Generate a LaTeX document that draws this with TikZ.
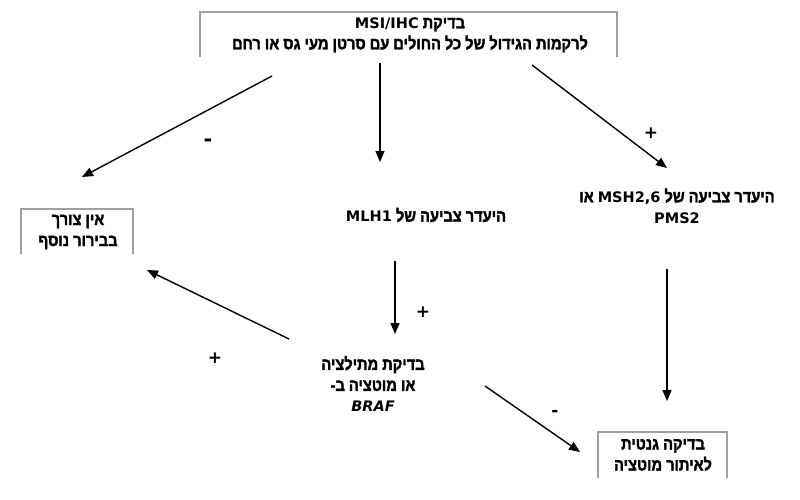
\documentclass[tikz,border=0pt]{standalone}
\usepackage{fontspec}
\setmainfont{DejaVu Sans}
\newfontfamily\hebfont[Script=Hebrew, FakeStretch=0.86, FakeBold=2]{Liberation Sans Bold}
\newfontfamily\latfont{DejaVu Sans}
\TeXXeTstate=1
\usetikzlibrary{arrows.meta}
\definecolor{boxgray}{RGB}{160,160,160}
\newcommand{\RLtxt}[1]{\beginR #1\endR}
\newcommand{\LRtxt}[1]{\beginL{\latfont\bfseries\fontsize{14.5}{21}\selectfont #1}\endL{}}
\begin{document}
\begin{tikzpicture}[x=1pt,y=-1pt,
  txt/.style={font=\hebfont\fontsize{17}{21}\selectfont, align=center, inner sep=0pt},
  openbox/.style={draw=boxgray, line width=1.5pt},
  arr/.style={-{Triangle[length=11pt,width=9pt]}, line width=1.4pt},
  sign/.style={font=\latfont\bfseries\fontsize{17}{17}\selectfont, inner sep=0pt},
  minussign/.style={font=\latfont\bfseries\fontsize{21}{21}\selectfont, inner sep=0pt}]
\useasboundingbox (0,0) rectangle (800,499);
% open boxes
\draw[openbox] (200,57) -- (200,12) -- (617,12) -- (617,57);
\draw[openbox] (21,254) -- (21,209) -- (133,209) -- (133,254);
\draw[openbox] (598,478) -- (598,432) -- (727,432) -- (727,478);
% texts
\node[txt] (top) at (410,35) {\RLtxt{בדיקת \LRtxt{MSI/IHC}}\\\RLtxt{לרקמות הגידול של כל החולים עם סרטן מעי גס או רחם}};
\node[txt] (none) at (78,232) {\RLtxt{אין צורך}\\\RLtxt{בבירור נוסף}};
\node[txt] (mlh) at (426,215) {\RLtxt{היעדר צביעה של \LRtxt{MLH1}}};
\node[txt] (msh) at (677,206) {\RLtxt{היעדר צביעה של \LRtxt{MSH2,6} או}\\\LRtxt{PMS2}};
\node[txt] (braf) at (373,384) {\RLtxt{בדיקת מתילציה}\\\RLtxt{או מוטציה ב-}\\\LRtxt{\itshape BRAF}};
\node[txt] (gen) at (663,455) {\RLtxt{בדיקה גנטית}\\\RLtxt{לאיתור מוטציה}};
% arrow end points
\coordinate (t1) at (272,76);  \coordinate (h1) at (82,177);
\coordinate (t2) at (380,63);  \coordinate (h2) at (380,162);
\coordinate (t3) at (532,65);  \coordinate (h3) at (667,168);
\coordinate (t4) at (395,261); \coordinate (h4) at (395,334);
\coordinate (t5) at (289,339); \coordinate (h5) at (147,270);
\coordinate (t6) at (667,269); \coordinate (h6) at (667,401);
\coordinate (t7) at (485,386); \coordinate (h7) at (580,452);
\draw[arr] (t1) -- (h1);
\draw[arr] (t2) -- (h2);
\draw[arr] (t3) -- (h3);
\draw[arr] (t4) -- (h4);
\draw[arr] (t5) -- (h5);
\draw[arr] (t6) -- (h6);
\draw[arr] (t7) -- (h7);
% signs
\node[minussign] (s1) at (208,143) {-};
\node[sign] (s3) at (651,133) {+};
\node[sign] (s4) at (423,312) {+};
\node[sign] (s5) at (215,358) {+};
\node[sign] (s7) at (555,413) {-};
\end{tikzpicture}
\end{document}
